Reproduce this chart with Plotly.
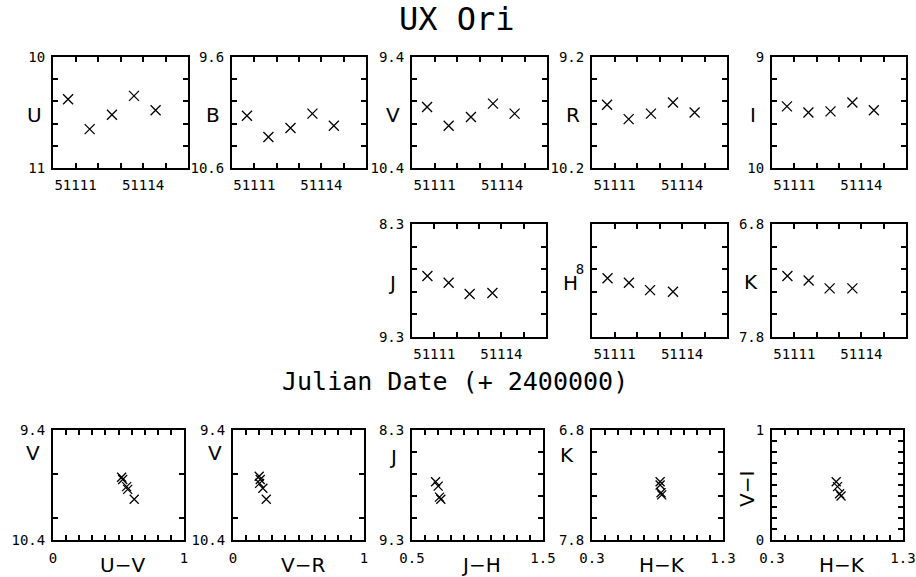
import plotly.graph_objects as go

W, H = 916, 577

# ---------------- data ----------------
jd_opt = [51110.67, 51111.63, 51112.62, 51113.60, 51114.56]
U_mag = [10.38, 10.65, 10.52, 10.35, 10.48]
B_mag = [10.13, 10.32, 10.24, 10.11, 10.22]
V_mag = [9.85, 10.02, 9.94, 9.82, 9.91]
R_mag = [9.63, 9.76, 9.71, 9.61, 9.70]
I_mag = [9.445, 9.50, 9.49, 9.41, 9.48]

jd_ir = [51110.69, 51111.64, 51112.58, 51113.60]
J_mag = [8.76, 8.82, 8.92, 8.91]
H_mag = [8.08, 8.12, 8.185, 8.20]
K_mag = [7.26, 7.30, 7.37, 7.37]

UV_col = [0.524, 0.532, 0.562, 0.570, 0.62]
V_for_UV = [9.83, 9.85, 9.915, 9.94, 10.03]
VR_col = [0.20, 0.208, 0.203, 0.228, 0.254]
V_for_VR = [9.82, 9.85, 9.885, 9.93, 10.03]
JH_col = [0.68, 0.70, 0.71, 0.72]
J_for_JH = [8.77, 8.81, 8.91, 8.93]
HK_col = [0.82, 0.82, 0.827, 0.832]
K_for_HK = [7.27, 7.30, 7.37, 7.39]
HK_col2 = [0.79, 0.80, 0.816, 0.827]
VI_col = [0.53, 0.485, 0.42, 0.40]

date_ticks = [51111, 51114]
date_labels = ["51111", "51114"]

# ---------------- layout helpers ----------------
TICKFONT = dict(family="DejaVu Sans Mono", size=14, color="black")
LABFONT = dict(family="DejaVu Sans", size=20, color="black")
EPS = 1e-6

fig = go.Figure()
layout = dict(width=W, height=H, margin=dict(l=0, r=0, t=0, b=0, autoexpand=False),
              paper_bgcolor="white", plot_bgcolor="white", showlegend=False)
annotations = []


def axis(domain, rng, tickvals, ticktext, minor_vals, reverse=False, standoff=3):
    r = [rng[1] + EPS, rng[0] - EPS] if reverse else [rng[0] - EPS, rng[1] + EPS]
    return dict(domain=domain, range=r, automargin=False, showgrid=False, zeroline=False,
                showline=True, linewidth=2, linecolor="black", mirror="allticks",
                ticks="inside", ticklen=5, tickwidth=1.5, tickcolor="black",
                tickmode="array", tickvals=tickvals, ticktext=ticktext,
                tickfont=TICKFONT, ticklabelstandoff=standoff,
                minor=dict(tickmode="array", tickvals=minor_vals, ticks="inside",
                           ticklen=5, tickwidth=1.5, tickcolor="black", showgrid=False))


def panel(idx, px_x, px_y, xs, ys, xcfg, ycfg, msize=10):
    xd = [px_x[0] / W, px_x[1] / W]
    yd = [1 - px_y[1] / H, 1 - px_y[0] / H]
    xa = "xaxis" if idx == 1 else f"xaxis{idx}"
    ya = "yaxis" if idx == 1 else f"yaxis{idx}"
    layout[xa] = axis(xd, **xcfg)
    layout[xa]["anchor"] = "y" if idx == 1 else f"y{idx}"
    layout[ya] = axis(yd, **ycfg)
    layout[ya]["anchor"] = "x" if idx == 1 else f"x{idx}"
    fig.add_trace(go.Scatter(
        x=xs, y=ys, mode="markers",
        xaxis="x" if idx == 1 else f"x{idx}", yaxis="y" if idx == 1 else f"y{idx}",
        marker=dict(symbol="x-thin", size=msize, color="black",
                    line=dict(color="black", width=1.3)),
        hoverinfo="skip"))


def label(text, px, py, angle=0, font=LABFONT):
    annotations.append(dict(text=text, x=px / W, y=1 - py / H, xref="paper", yref="paper",
                            showarrow=False, xanchor="center", yanchor="middle",
                            textangle=angle, font=font))


def frange(a, b, step):
    out, v = [], a
    while v <= b + 1e-9:
        out.append(round(v, 6))
        v += step
    return out


date_x = dict(rng=[51110, 51116], tickvals=date_ticks, ticktext=date_labels,
              minor_vals=list(range(51110, 51117)), standoff=3)


def mag_y(lo, hi, lab_lo, lab_hi, step=0.2, vals=None, texts=None):
    tv = vals if vals is not None else [lo, hi]
    tt = texts if texts is not None else [lab_lo, lab_hi]
    return dict(rng=[lo, hi], tickvals=tv, ticktext=tt,
                minor_vals=frange(lo, hi, step), reverse=True, standoff=3)


# ---------------- top row ----------------
top_y = (57, 168)
top_x = [(53, 188), (232, 366), (412, 547), (592, 727), (772, 906)]
top_series = [(U_mag, 10, 11, "10", "11", "U"),
              (B_mag, 9.6, 10.6, "9.6", "10.6", "B"),
              (V_mag, 9.4, 10.4, "9.4", "10.4", "V"),
              (R_mag, 9.2, 10.2, "9.2", "10.2", "R"),
              (I_mag, 9, 10, "9", "10", "I")]
for i, ((mag, lo, hi, tl, th, name), px) in enumerate(zip(top_series, top_x)):
    panel(i + 1, px, top_y, jd_opt, mag, date_x, mag_y(lo, hi, tl, th))
    label(name, px[0] - 19, 115)

# ---------------- middle row ----------------
mid_y = (224, 337)
mid_x = [(412, 546), (592, 727), (772, 906)]
panel(6, mid_x[0], mid_y, jd_ir, J_mag, date_x, mag_y(8.3, 9.3, "8.3", "9.3"))
label("J", 392, 283)
panel(7, mid_x[1], mid_y, jd_ir, H_mag, date_x,
      mag_y(7.6, 8.6, None, None, vals=[8.0], texts=["8"]))
label("H", 570, 283)
panel(8, mid_x[2], mid_y, jd_ir, K_mag, date_x, mag_y(6.8, 7.8, "6.8", "7.8"))
label("K", 751, 282)

label("Julian Date (+ 2400000)", 455, 381,
      font=dict(family="DejaVu Sans Mono", size=25, color="black"))
label("UX Ori", 457, 19, font=dict(family="DejaVu Sans Mono", size=32, color="black"))

# ---------------- bottom row ----------------
bot_y = (430, 540)
bot_x = [(53, 184), (233, 364), (412, 543), (592, 723), (772, 903)]


def col_x(lo, hi, tl, th):
    return dict(rng=[lo, hi], tickvals=[lo, hi], ticktext=[tl, th],
                minor_vals=frange(lo, hi, 0.1), standoff=4)


panel(9, bot_x[0], bot_y, UV_col, V_for_UV, col_x(0, 1, "0", "1"),
      mag_y(9.4, 10.4, "9.4", "10.4") | dict(minor_vals=[9.8, 10.2]), msize=9)
panel(10, bot_x[1], bot_y, VR_col, V_for_VR, col_x(0, 1, "0", "1"),
      mag_y(9.4, 10.4, "9.4", "10.4") | dict(minor_vals=[9.8, 10.2]), msize=9)
panel(11, bot_x[2], bot_y, JH_col, J_for_JH, col_x(0.5, 1.5, "0.5", "1.5"),
      mag_y(8.3, 9.3, "8.3", "9.3"), msize=9)
panel(12, bot_x[3], bot_y, HK_col, K_for_HK, col_x(0.3, 1.3, "0.3", "1.3"),
      mag_y(6.8, 7.8, "6.8", "7.8"), msize=9)
panel(13, bot_x[4], bot_y, HK_col2, VI_col, col_x(0.3, 1.3, "0.3", "1.3"),
      dict(rng=[0, 1], tickvals=[0, 1], ticktext=["0", "1"],
           minor_vals=frange(0, 1, 0.1), reverse=False, standoff=3), msize=9)

label("V", 33, 453)
label("V", 215, 453)
label("J", 393, 457)
label("K", 567, 455)
label("V\u2212I", 747, 489, angle=-90)
for name, px in zip(["U\u2212V", "V\u2212R", "J\u2212H", "H\u2212K", "H\u2212K"], bot_x):
    label(name, (px[0] + px[1]) / 2 + 4, 565)

layout["annotations"] = annotations
fig.update_layout(**layout)
fig.write_html("out.html")
